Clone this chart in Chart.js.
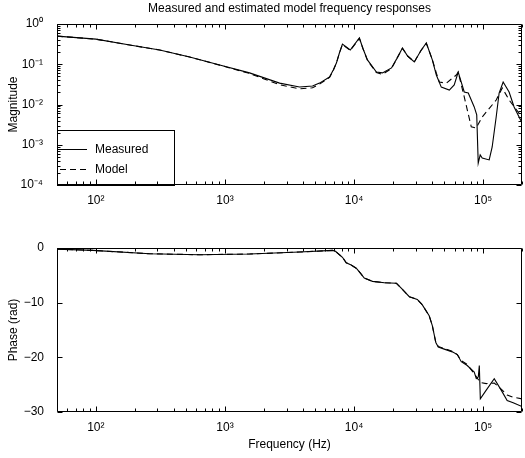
<!DOCTYPE html>
<html>
<head>
<meta charset="utf-8">
<script src="https://cdn.jsdelivr.net/npm/chart.js@4.4.1/dist/chart.umd.min.js"></script>
<style>
  body { margin: 0; background: #fff; }
  #wrap { position: relative; width: 525px; height: 458px; }
  canvas { position: absolute; left: 0; }
  #mag { top: 0; }
  #phase { top: 229px; }
</style>
</head>
<body>
<div id="wrap">
  <canvas id="mag" width="525" height="229"></canvas>
  <canvas id="phase" width="525" height="229"></canvas>
</div>
<script>
// magnitude, measured
const magFreqMeas = [50, 100, 183, 312, 533, 910, 1550, 2650, 3780, 4770, 5400, 6460, 6900, 7300, 7700, 8130,
  9350, 11000, 11700, 12700, 14900, 16600, 19500, 21500, 23700, 26000, 29300, 33000, 36300, 40400, 43400,
  47400, 54700, 59700, 64100, 71400, 76700, 85300, 89200, 91600, 94900, 98400, 111400, 117500, 126200,
  133000, 142900, 158900, 173700, 200000];
const magMeas = [0.50, 0.42, 0.30, 0.226, 0.151, 0.096, 0.061, 0.034, 0.0272, 0.0288, 0.034, 0.048, 0.072, 0.107, 0.19, 0.318,
  0.226, 0.449, 0.25, 0.128, 0.064, 0.061, 0.081, 0.14, 0.253, 0.16, 0.114, 0.22, 0.337, 0.128, 0.054,
  0.027, 0.0229, 0.0305, 0.064, 0.0205, 0.0193, 0.0087, 0.0055, 0.00035, 0.00056, 0.00047, 0.00042, 0.00088, 0.0049,
  0.0193, 0.0362, 0.0205, 0.0087, 0.0035];

// magnitude, model
const magFreqModel = [50, 100, 183, 312, 533, 910, 1550, 2650, 3780, 4770, 5400, 6460, 6900, 7300, 7700, 8130,
  9350, 11000, 11700, 12700, 14900, 16600, 19500, 21500, 23700, 26000, 29300, 33000, 36300, 40400, 43400,
  45800, 51900, 62000, 64100, 71400, 80900, 88300, 98400, 126200, 140600, 158900, 200000];
const magModel = [0.50, 0.42, 0.30, 0.226, 0.151, 0.095, 0.059, 0.031, 0.0245, 0.026, 0.032, 0.047, 0.07, 0.107, 0.19, 0.31,
  0.22, 0.44, 0.25, 0.125, 0.062, 0.056, 0.078, 0.14, 0.25, 0.16, 0.115, 0.22, 0.33, 0.13, 0.06,
  0.036, 0.034, 0.054, 0.064, 0.0154, 0.0028, 0.0026, 0.0049, 0.0129, 0.0257, 0.0129, 0.0049];

// phase (rad), measured
const phaseFreqMeas = [50, 95, 261, 637, 1550, 3780, 6810, 7180, 8130, 8700, 9500, 10400, 11200, 12000, 13900,
  17200, 21300, 23200, 26800, 30900, 33800, 38200, 40400, 43000, 44900, 50000, 57700, 63100, 67700, 75300,
  85300, 88500, 91700, 93400, 95100, 105700, 121900, 138000, 153500, 170900, 200000];
const phaseMeas = [-0.2, -0.44, -1.05, -1.23, -1.1, -0.74, -0.44, -0.6, -1.7, -2.7, -3.1, -3.7, -4.6, -5.5, -6.1,
  -6.35, -6.45, -7.35, -8.9, -9.4, -10.4, -12.4, -14.2, -17.3, -18.1, -18.5, -19.0, -19.5, -20.8, -21.5,
  -22.7, -23.9, -23.6, -21.5, -27.6, -26.0, -23.9, -26.0, -27.9, -28.3, -29.0];

// phase (rad), model
const phaseFreqModel = [50, 95, 261, 637, 1550, 3780, 6810, 7180, 8130, 8700, 9500, 10400, 11200, 12000, 13900,
  17200, 21300, 23200, 26800, 30900, 33800, 38200, 40400, 43000, 44900, 50000, 57700, 63100, 67700, 75300,
  85300, 95100, 105700, 121900, 138000, 153500, 170900, 200000];
const phaseModel = [-0.2, -0.44, -1.05, -1.23, -1.1, -0.74, -0.44, -0.6, -1.7, -2.7, -3.1, -3.7, -4.6, -5.5, -6.1,
  -6.35, -6.45, -7.35, -8.9, -9.4, -10.4, -12.4, -14.2, -17.3, -18.0, -18.4, -18.9, -19.5, -20.6, -21.3,
  -23.0, -24.6, -24.8, -24.7, -25.8, -26.9, -27.3, -27.6];

// tick labels
const freqTickValues = [1e2, 1e3, 1e4, 1e5];
const freqTickLabels = ['10²', '10³', '10⁴', '10⁵'];
const magTickValues = [1e-4, 1e-3, 1e-2, 1e-1, 1];
const magTickLabels = ['10⁻⁴', '10⁻³', '10⁻²', '10⁻¹', '10⁰'];
const phaseTickValues = [-30, -20, -10, 0];
const phaseTickLabels = ['−30', '−20', '−10', '0'];

Chart.defaults.font.family = '"Liberation Sans", Arial, Helvetica, sans-serif';
Chart.defaults.font.size = 12;
Chart.defaults.color = '#000';

const zip = (xs, ys) => xs.map((x, i) => ({ x: x, y: ys[i] }));

function labelFor(v, vals, labels) {
  const i = vals.findIndex(t => Math.abs(v - t) <= 1e-6 * Math.abs(t));
  return i < 0 ? '' : labels[i];
}

// log scale in v4 also gives 1.5e? ticks, keep only 1..9 x 10^n
function keepIntMantissa(scale) {
  scale.ticks = scale.ticks.filter(t => {
    const m = t.value / Math.pow(10, Math.floor(Math.log10(t.value) + 1e-9));
    return Math.abs(m - Math.round(m)) < 1e-6;
  });
}

const isMajorTick = (scale, v) => {
  if (scale.type !== 'logarithmic') return true;
  const e = Math.log10(v);
  return Math.abs(e - Math.round(e)) < 1e-6;
};

// box round the plot with inward ticks on all four sides
const frame = {
  id: 'boxFrame',
  afterDraw(chart) {
    const ctx = chart.ctx;
    const a = chart.chartArea;
    const xs = chart.scales.x, ys = chart.scales.y;
    const L = Math.round(a.left) + 0.5, R = Math.round(a.right) - 0.5;
    const T = Math.round(a.top) + 0.5, B = Math.round(a.bottom) - 0.5;
    ctx.save();
    ctx.strokeStyle = '#000';
    ctx.lineWidth = 1;
    ctx.setLineDash([]);
    ctx.beginPath();
    xs.ticks.forEach(t => {
      const p = Math.round(xs.getPixelForValue(t.value)) + 0.5;
      const len = isMajorTick(xs, t.value) ? 5 : 3;
      ctx.moveTo(p, B); ctx.lineTo(p, B - len);
      ctx.moveTo(p, T); ctx.lineTo(p, T + len);
    });
    ys.ticks.forEach(t => {
      const p = Math.round(ys.getPixelForValue(t.value)) + 0.5;
      const len = isMajorTick(ys, t.value) ? 5 : 3;
      ctx.moveTo(L, p); ctx.lineTo(L + len, p);
      ctx.moveTo(R, p); ctx.lineTo(R - len, p);
    });
    ctx.moveTo(L, T); ctx.lineTo(R, T); ctx.lineTo(R, B); ctx.lineTo(L, B); ctx.closePath();
    ctx.stroke();
    ctx.restore();
  }
};

// legend box in the lower left corner
const boxLegend = {
  id: 'boxLegend',
  afterDraw(chart) {
    const ctx = chart.ctx;
    const a = chart.chartArea;
    const w = 117, h = 55;
    const x0 = Math.round(a.left), y0 = Math.round(a.bottom) - h;
    ctx.save();
    ctx.fillStyle = '#fff';
    ctx.fillRect(x0, y0, w, h);
    ctx.strokeStyle = '#000';
    ctx.lineWidth = 1;
    ctx.strokeRect(x0 + 0.5, y0 + 0.5, w, h);
    ctx.font = '12px "Liberation Sans", Arial, sans-serif';
    ctx.textBaseline = 'middle';
    chart.data.datasets.forEach((ds, i) => {
      const yy = y0 + 19 + i * 20 + 0.5;
      ctx.setLineDash(ds.borderDash || []);
      ctx.beginPath();
      ctx.moveTo(x0 + 3, yy);
      ctx.lineTo(x0 + 30, yy);
      ctx.stroke();
      ctx.setLineDash([]);
      ctx.fillStyle = '#000';
      ctx.fillText(ds.label, x0 + 38, yy);
    });
    ctx.restore();
  }
};

const lineStyle = { borderColor: '#000', borderWidth: 1.1, pointRadius: 0, showLine: true, fill: false, tension: 0 };

const xAxis = (height, title) => ({
  type: 'logarithmic',
  min: 50,
  max: 200000,
  grid: { display: false },
  border: { display: false },
  afterBuildTicks: keepIntMantissa,
  afterFit: s => { s.height = height; s.paddingLeft = 0; s.paddingRight = 0; },
  ticks: { autoSkip: false, maxRotation: 0, minRotation: 0, padding: 0,
    callback: v => labelFor(v, freqTickValues, freqTickLabels) },
  title: title ? { display: true, text: title, padding: { top: 0, bottom: 6 } } : { display: false }
});

new Chart(document.getElementById('mag'), {
  type: 'scatter',
  data: {
    datasets: [
      Object.assign({ label: 'Measured', data: zip(magFreqMeas, magMeas) }, lineStyle),
      Object.assign({ label: 'Model', data: zip(magFreqModel, magModel), borderDash: [6, 4] }, lineStyle)
    ]
  },
  options: {
    responsive: false,
    animation: false,
    layout: { padding: { top: 0, right: 3, left: 0, bottom: 0 } },
    plugins: {
      legend: { display: false },
      tooltip: { enabled: false },
      title: { display: true, text: 'Measured and estimated model frequency responses', fullSize: false,
        font: { size: 12, weight: 'normal' }, color: '#000', padding: { top: 1.5, bottom: 8.1 } }
    },
    scales: {
      x: xAxis(44, null),
      y: {
        type: 'logarithmic',
        min: 1e-4,
        max: 1,
        grid: { display: false },
        border: { display: false },
        afterBuildTicks: keepIntMantissa,
        afterFit: s => { s.width = 57; },
        ticks: { autoSkip: false, padding: 6, callback: v => labelFor(v, magTickValues, magTickLabels) },
        title: { display: true, text: 'Magnitude', padding: { top: 6, bottom: 0 } }
      }
    }
  },
  plugins: [boxLegend, frame]
});

new Chart(document.getElementById('phase'), {
  type: 'scatter',
  data: {
    datasets: [
      Object.assign({ label: 'Measured', data: zip(phaseFreqMeas, phaseMeas) }, lineStyle),
      Object.assign({ label: 'Model', data: zip(phaseFreqModel, phaseModel), borderDash: [6, 4] }, lineStyle)
    ]
  },
  options: {
    responsive: false,
    animation: false,
    layout: { padding: { top: 19, right: 3, left: 0, bottom: 0 } },
    plugins: { legend: { display: false }, tooltip: { enabled: false } },
    scales: {
      x: xAxis(46, 'Frequency (Hz)'),
      y: {
        type: 'linear',
        min: -30,
        max: 0,
        grid: { display: false },
        border: { display: false },
        afterBuildTicks: s => { s.ticks = phaseTickValues.map(v => ({ value: v })); },
        afterFit: s => { s.width = 57; },
        ticks: { padding: 5, callback: v => labelFor(v, phaseTickValues, phaseTickLabels) },
        title: { display: true, text: 'Phase (rad)', padding: { top: 6, bottom: 0 } }
      }
    }
  },
  plugins: [frame]
});
</script>
</body>
</html>
